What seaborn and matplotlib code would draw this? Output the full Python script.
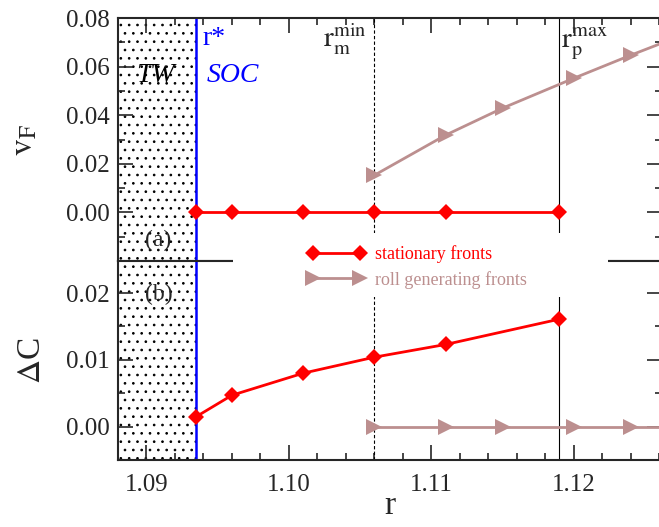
import numpy as np
import matplotlib
matplotlib.use('Agg')
import matplotlib.pyplot as plt
from matplotlib.ticker import MultipleLocator, FormatStrFormatter
from matplotlib.patches import Rectangle
import seaborn as sns

sns.set_style('ticks')
plt.rcParams['font.family'] = ['Liberation Serif', 'DejaVu Serif']
plt.rcParams['mathtext.fontset'] = 'stix'
plt.rcParams['hatch.linewidth'] = 0.7

# ── data ─────────────────────────────────────────────────────────────────
r_stat  = [1.0935, 1.096, 1.101, 1.106, 1.111, 1.119]
vF_stat = [0.0, 0.0, 0.0, 0.0, 0.0, 0.0]
dC_stat = [0.0015, 0.0047, 0.0080, 0.0104, 0.0123, 0.0161]

# last point only continues the line past the right edge (no marker)
r_roll  = [1.106, 1.111, 1.115, 1.120, 1.124, 1.1262]
vF_roll = [0.0153, 0.0318, 0.0429, 0.0552, 0.0647, 0.0697]
dC_roll = [0.0, 0.0, 0.0, 0.0, 0.0, 0.0]

r_star, r_m_min, r_p_max = 1.0935, 1.106, 1.119

x_ticks  = [1.09, 1.10, 1.11, 1.12]
vF_ticks = [0.00, 0.02, 0.04, 0.06, 0.08]
dC_ticks = [0.00, 0.01, 0.02]

RED, ROSE, BLUE = '#ff0000', '#bc8f8f', '#0000ff'
FS_TICK = 18

fig = plt.figure(figsize=(6.59, 5.27), dpi=100)
ax1 = fig.add_axes([0.179, 0.5047, 0.8256, 0.4611])
ax2 = fig.add_axes([0.179, 0.1271, 0.8256, 0.3776])

for ax in (ax1, ax2):
    ax.set_xlim(1.088, 1.1262)
    ax.axvspan(1.088, r_star, facecolor='white', edgecolor='black',
               hatch='..', linewidth=0, zorder=0)
    ax.axvline(r_star, color=BLUE, lw=1.8, zorder=1)
    ax.axvline(r_m_min, color='black', lw=0.8, ls=(0, (3, 2)), zorder=1)
    ax.axvline(r_p_max, color='black', lw=0.8, zorder=1)
    for s in ax.spines.values():
        s.set_linewidth(1.5)
        s.set_visible(True)
    ax.xaxis.set_major_locator(MultipleLocator(0.01))
    ax.xaxis.set_minor_locator(MultipleLocator(0.002))
    ax.tick_params(which='both', direction='in', width=1.2, left=True, right=True,
                   labelsize=FS_TICK)
    ax.tick_params(which='major', length=11, pad=6)
    ax.tick_params(which='minor', length=5)
    ax.set_xlabel('')
    ax.set_ylabel('')

# ── (a) front velocity ───────────────────────────────────────────────────
sns.lineplot(x=r_stat, y=vF_stat, ax=ax1, color=RED, lw=2, marker='D',
             markersize=8, markeredgewidth=0, zorder=3)
sns.lineplot(x=r_roll, y=vF_roll, ax=ax1, color=ROSE, lw=2, marker='>',
             markersize=12, markeredgewidth=0, markevery=list(range(5)), zorder=3)
ax1.set_ylim(-0.02, 0.08)
ax1.set_yticks(vF_ticks)
ax1.yaxis.set_minor_locator(MultipleLocator(0.01))
ax1.yaxis.set_major_formatter(FormatStrFormatter('%.2f'))
ax1.tick_params(axis='x', which='both', bottom=False, top=True,
                labelbottom=False, labeltop=False)
ax1.set_ylabel(r'$\mathrm{v}_{\mathrm{F}}$', fontsize=24)
ax1.yaxis.set_label_coords(-0.145, 0.5)

ax1.text(1.0939, 0.069, 'r*', color=BLUE, fontsize=20)
ax1.text(1.0942, 0.0535, 'SOC', color=BLUE, fontsize=20, style='italic')
ax1.text(1.0893, 0.0535, 'TW', color='black', fontsize=20, style='italic')
ax1.text(1.0899, -0.0138, '(a)', fontsize=17)
ax1.text(1.1024, 0.0679, r'$\mathrm{r}_{\mathrm{m}}^{\mathrm{min}}$', fontsize=21)
ax1.text(1.1191, 0.0679, r'$\mathrm{r}_{\mathrm{p}}^{\mathrm{max}}$', fontsize=21)

# ── (b) concentration contrast ───────────────────────────────────────────
sns.lineplot(x=r_stat, y=dC_stat, ax=ax2, color=RED, lw=2, marker='D',
             markersize=8, markeredgewidth=0, zorder=3)
sns.lineplot(x=r_roll, y=dC_roll, ax=ax2, color=ROSE, lw=2, marker='>',
             markersize=12, markeredgewidth=0, markevery=list(range(5)), zorder=3)
ax2.set_ylim(-0.005, 0.0248)
ax2.set_yticks(dC_ticks)
ax2.yaxis.set_minor_locator(MultipleLocator(0.005))
ax2.yaxis.set_major_formatter(FormatStrFormatter('%.2f'))
ax2.set_xticks(x_ticks)
ax2.xaxis.set_major_formatter(FormatStrFormatter('%.2f'))
ax2.tick_params(axis='x', which='both', bottom=True, top=False, pad=10)
ax2.set_ylabel(r'$\Delta$C', fontsize=24)
ax2.yaxis.set_label_coords(-0.13, 0.5)
ax2.set_xlabel('r', fontsize=24)
ax2.xaxis.set_label_coords(0.5, -0.155)
ax2.text(1.0899, 0.0190, '(b)', fontsize=17)

# white mask behind the legend, cutting the panel border
fig.patches.append(Rectangle((0.3536, 0.4364), 0.569, 0.1215,
                             transform=fig.transFigure, facecolor='white',
                             edgecolor='none', zorder=4))
handles = [ax1.lines[3], ax1.lines[4]]
fig.legend(handles, ['stationary fronts', 'roll generating fronts'],
           loc='upper left', bbox_to_anchor=(0.467, 0.534), frameon=False,
           numpoints=2, handlelength=3.2, handletextpad=0.5, labelspacing=0.4,
           borderpad=0, borderaxespad=0, fontsize=13, labelcolor='linecolor')

fig.savefig('out.png', dpi=100)
